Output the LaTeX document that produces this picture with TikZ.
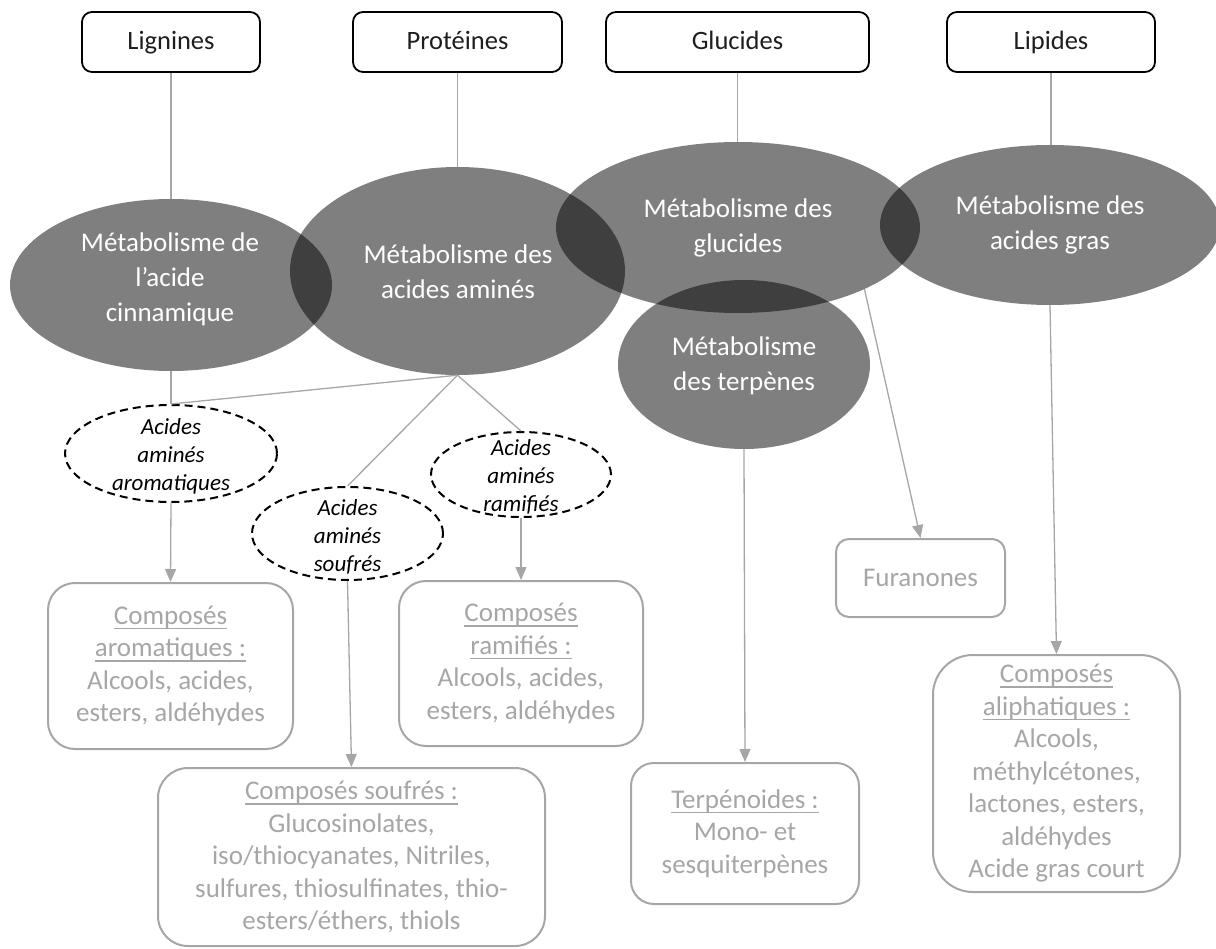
\documentclass[tikz,border=0pt]{standalone}
\usepackage{fontspec}
\setmainfont{Carlito}
\usetikzlibrary{shapes.geometric,arrows.meta}
\definecolor{lg}{HTML}{A6A6A6}
\definecolor{dk}{HTML}{1E1E1E}
\newsavebox\undlbox
\newcommand\undl[1]{\sbox\undlbox{#1}\leavevmode\rlap{\rule[-5pt]{\wd\undlbox}{1.6pt}}\usebox\undlbox}
\begin{document}
\begin{tikzpicture}[x=1pt,y=-1pt,
  topbox/.style={draw=black, line width=1.8pt, rounded corners=10pt, minimum height=60pt, inner sep=0pt, text height=20pt, text depth=4pt, text=dk, font=\fontsize{26.5}{32}\selectfont},
  metab/.style={ellipse, fill=black, fill opacity=0.5, draw=none, inner sep=0pt},
  mtext/.style={text=white, align=center, font=\fontsize{27}{35}\selectfont},
  aa/.style={ellipse, draw=black, line width=2pt, dash pattern=on 8pt off 5pt, inner sep=0pt},
  aatext/.style={align=center, text=black, font=\itshape\fontsize{23}{28}\selectfont},
  gbox/.style={draw=lg, line width=2pt, text=lg, align=center, inner sep=0pt, font=\fontsize{27}{32.5}\selectfont},
  conn/.style={draw=lg, line width=1.3pt},
  arr/.style={conn, -{Triangle[length=13pt,width=11pt]}}
]
\useasboundingbox (0,0) rectangle (1216,949);

% top boxes
\node[topbox, minimum width=178pt] (lig) at (171,42) {Lignines};
\node[topbox, minimum width=209pt] (pro) at (457.5,42) {Protéines};
\node[topbox, minimum width=263pt] (glc) at (737.5,42) {Glucides};
\node[topbox, minimum width=208pt] (lip) at (1051,42) {Lipides};

% metabolism ellipses
\node[metab, minimum width=322pt, minimum height=172pt] (cin) at (171,285) {};
\node[metab, minimum width=335pt, minimum height=208pt] (ami) at (457.5,271) {};
\node[metab, minimum width=364pt, minimum height=171pt] (glu) at (738,227.5) {};
\node[metab, minimum width=252pt, minimum height=169pt] (ter) at (744,364.5) {};
\node[metab, minimum width=340pt, minimum height=160pt] (fat) at (1050,225) {};

\node[mtext] (cinT) at (170,279) {Métabolisme de\\l’acide\\cinnamique};
\node[mtext] (amiT) at (458,272) {Métabolisme des\\acides aminés};
\node[mtext] (gluT) at (738,228) {Métabolisme des\\glucides};
\node[mtext] (terT) at (744,366) {Métabolisme\\des terpènes};
\node[mtext] (fatT) at (1050,225) {Métabolisme des\\acides gras};

% connectors from top boxes
\draw[conn] (lig.south) -- (lig.south |- cin.north);
\draw[conn] (pro.south) -- (pro.south |- ami.north);
\draw[conn] (glc.south) -- (glc.south |- glu.north);
\draw[conn] (lip.south) -- (lip.south |- fat.north);

% dashed ellipses
\node[aa, minimum width=212pt, minimum height=97pt] (aro) at (171,453.5) {};
\node[aa, minimum width=191pt, minimum height=93pt] (sou) at (347.5,533.5) {};
\node[aa, minimum width=180pt, minimum height=85pt] (ram) at (521,474.5) {};
\node[aatext] (aroT) at (171,456) {Acides\\aminés\\aromatiques};
\node[aatext] (souT) at (347.5,537) {Acides\\aminés\\soufrés};
\node[aatext] (ramT) at (521,477) {Acides\\aminés\\ramifiés};

% gray boxes
\node[gbox, rounded corners=27pt, minimum width=245pt, minimum height=166pt] (aroB) at (170.5,666) {\undl{Composés}\\\undl{aromatiques :}\\Alcools, acides,\\esters, aldéhydes};
\node[gbox, rounded corners=27pt, minimum width=244pt, minimum height=165pt] (ramB) at (521,663.5) {\undl{Composés}\\\undl{ramifiés :}\\Alcools, acides,\\esters, aldéhydes};
\node[gbox, rounded corners=30pt, minimum width=387pt, minimum height=178pt] (souB) at (351.5,857) {\undl{Composés soufrés :}\\Glucosinolates,\\iso/thiocyanates, Nitriles,\\sulfures, thiosulfinates, thio-\\esters/éthers, thiols};
\node[gbox, rounded corners=23pt, minimum width=228pt, minimum height=141pt] (terB) at (745,833.5) {\undl{Terpénoides :}\\Mono- et\\sesquiterpènes};
\node[gbox, rounded corners=40pt, minimum width=247pt, minimum height=237pt] (aliB) at (1056.5,773.5) {\undl{Composés}\\\undl{aliphatiques :}\\Alcools,\\méthylcétones,\\lactones, esters,\\aldéhydes\\Acide gras court};
\node[gbox, rounded corners=13pt, minimum width=169pt, minimum height=78pt] (furB) at (920.5,578) {Furanones};

% connectors
\draw[conn] (cin.south) -- (aro.north);
\draw[conn] (ami.south) -- (aro.north);
\draw[conn] (ami.south) -- (sou.north);
\draw[conn] (ami.south) -- (ram.north);
\draw[arr] (aro.south) -- (aroB.north);
\draw[arr] (ram.south) -- (ramB.north);
\draw[arr] (sou.south) -- (souB.north);
\draw[arr] (ter.south) -- (terB.north);
\draw[arr] (glu.-26) -- (furB.north);
\draw[arr] (fat.south) -- (aliB.north);
\end{tikzpicture}
\end{document}
